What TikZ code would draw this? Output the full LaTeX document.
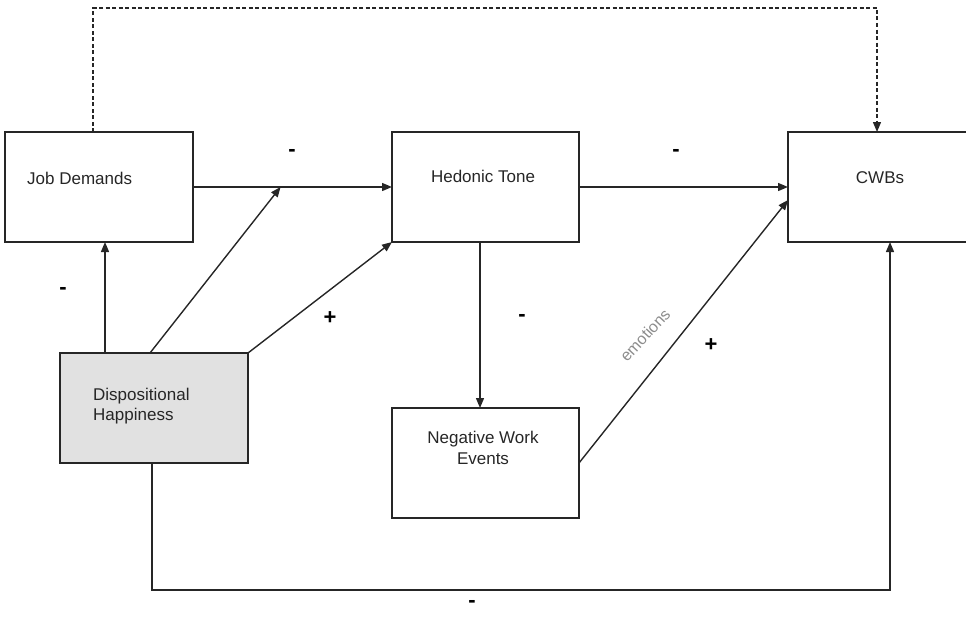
\documentclass[tikz,border=0pt]{standalone}
\usepackage{fontspec}
\setmainfont{Liberation Sans}
\usetikzlibrary{arrows.meta,calc}

\definecolor{ink}{HTML}{262626}
\definecolor{boxfill}{HTML}{E1E1E1}
\definecolor{note}{HTML}{8C8C8C}

\tikzset{
  box/.style={draw=ink, line width=1.4pt, minimum width=187pt, minimum height=110pt,
              inner sep=0pt, outer sep=0pt},
  lbl/.style={font=\fontsize{17}{20.5}\selectfont, text=ink, inner sep=0pt},
  sign/.style={font=\bfseries\fontsize{22}{24}\selectfont, text=black, inner sep=0pt},
  arr/.style={draw=ink, line width=1.4pt, -{Triangle[length=10pt,width=8pt]}},
  dashlink/.style={draw=ink, line width=1.3pt, dash pattern=on 4pt off 2.5pt,
                   -{Triangle[length=10pt,width=8pt]}}
}

\begin{document}
\begin{tikzpicture}[x=1pt, y=-1pt]
  \useasboundingbox (0,0) rectangle (966,616);
  \clip (0,0) rectangle (966,616);

  % boxes
  \node[box, minimum width=188pt] (jd)  at (99,187)    {};
  \node[box] (ht)  at (485.5,187)  {};
  \node[box, minimum width=186pt] (cwb) at (881,187)  {};
  \node[box, fill=boxfill, minimum width=188pt] (dh) at (154,408) {};
  \node[box] (nwe) at (485.5,463)  {};

  % box texts
  \node[lbl, anchor=west] (jdt) at (27,178) {Job Demands};
  \node[lbl] (htt) at (483,176) {Hedonic Tone};
  \node[lbl] (cwbt) at (880,178) {CWBs};
  \node[lbl, anchor=west, align=left] (dht) at (93,406) {Dispositional\\Happiness};
  \node[lbl, align=center] (nwet) at (483,448) {Negative Work\\Events};

  % helper points
  \coordinate (mid) at ($(jd.east)!0.44!(ht.west)$);
  \coordinate (d1) at (93,8);
  \coordinate (d2) at (877,8);
  \coordinate (b1) at (152,590);
  \coordinate (b2) at (890,590);

  % connectors
  \draw[arr] (jd.east) -- (ht.west);
  \draw[arr] (ht.east) -- (cwb.west);
  \draw[arr] ([xshift=45pt]dh.north west) -- ([xshift=45pt]dh.north west |- jd.south);
  \draw[arr] ([xshift=90pt]dh.north west) -- (mid);
  \draw[arr] (dh.north east) -- (ht.south west);
  \draw[arr] ([xshift=88pt]ht.south west) -- ([xshift=88pt]ht.south west |- nwe.north);
  \draw[arr] (nwe.east) -- ([yshift=-13pt]cwb.west);
  \draw[arr] (dh.south -| b1) -- (b1) -- (b2) -- (b2 |- cwb.south);
  \draw[dashlink] (jd.north -| d1) -- (d1) -- (d2) -- (d2 |- cwb.north);

  % label on the emotions link
  \node[font=\fontsize{16}{18}\selectfont, text=note, inner sep=0pt, rotate=47]
    (emo) at (645,335) {emotions};

  % signs
  \node[sign] (s1) at (292,153) {-};
  \node[sign] (s2) at (676,153) {-};
  \node[sign] (s3) at (63,291) {-};
  \node[sign] (s4) at (330,318) {+};
  \node[sign] (s5) at (522,318) {-};
  \node[sign] (s6) at (711,345) {+};
  \node[sign] (s7) at (472,604) {-};
\end{tikzpicture}
\end{document}
